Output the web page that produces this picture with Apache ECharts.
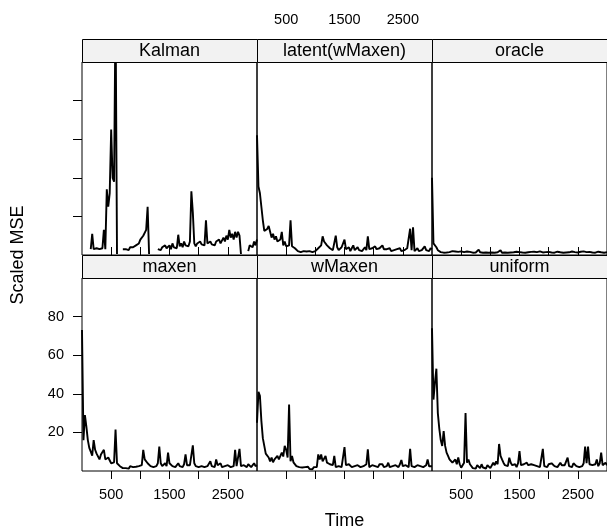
<!DOCTYPE html>
<html>
<head>
<meta charset="utf-8">
<script src="https://cdn.jsdelivr.net/npm/echarts@6/dist/echarts.min.js"></script>
<style>html,body{margin:0;padding:0;background:#fff;}#c{width:607px;height:531px;}</style>
</head>
<body>
<div id="c"></div>
<script>
const time = [0,25,50,75,100,125,150,175,200,225,
250,275,300,325,350,375,400,425,450,475,
500,525,550,575,600,625,650,675,700,725,
750,775,800,825,850,875,900,925,950,975,
1000,1025,1050,1075,1100,1125,1150,1175,1200,1225,
1250,1275,1300,1325,1350,1375,1400,1425,1450,1475,
1500,1525,1550,1575,1600,1625,1650,1675,1700,1725,
1750,1775,1800,1825,1850,1875,1900,1925,1950,1975,
2000,2025,2050,2075,2100,2125,2150,2175,2200,2225,
2250,2275,2300,2325,2350,2375,2400,2425,2450,2475,
2500,2525,2550,2575,2600,2625,2650,2675,2700,2725,
2750,2775,2800,2825,2850,2875,2900,2925,2950,2975,
3000];

const kalman = [null,null,null,null,null,null,3,11,3,2,
3.5,2.5,3,2,3.5,13,3,34,25,32,
65,40,38,130,0.5,null,null,null,3,2,
3,3.5,2.5,4,3,4,3.5,5,4,6,
8,9,10,11,13,25,0.5,null,null,null,
null,null,3,4,2.5,4,3,5,3.5,4,
5,3,6,4,5,3.5,10.5,4.5,6,4,
7,5,6,4.5,7,33,22,6,4.5,6,
5,7,5.5,6,5,18,6,5,7,5.5,
6.5,5,7,6,8,6,7,9,7,10,
8,13,9,11,8,12,9,12,10,0.5,
null,null,null,null,2,5,6,4,7,5,
8];

const latentWMaxen = [62,35.5,32,25,18,12.5,12,13.5,15,12,
9,11,8,9.7,7,6,8,12,5,7,
4.5,5.5,5,18,4.5,4.5,3.5,2.5,2,3,
1.5,2.5,2,3,1.8,2.5,2,3,1.5,2.5,
2,3,3.5,4.5,5,9.7,7,8,5,4,
3.5,4,2.5,3,10,4,2.5,3.5,4,3,
8,3,2.5,4,2,3.5,5,2.5,3,4,
2.5,3,2,3,4,2.5,9.7,3,2,3.5,
2.5,4.5,3,2,3.5,2.5,5,3,2,3,
2.5,3.5,2,3,2.5,2,3,2.5,3.5,2,
3,2.5,2,3.5,2.5,13.6,2.5,14.3,2,3,
3.5,2,3,2.5,3,4.5,2.5,3,2,3.5,
3];

const oracle = [40,6,7,4,2.5,3,1.5,2,1.2,1.8,
1.3,2,1.5,1.2,2,1.4,1.8,1.2,1.6,1.3,
1.9,1.2,1.5,1.3,1.8,1.2,1.6,1.4,1.2,1.7,
1.3,1.5,2.8,1.4,1.8,1.2,1.5,1.3,1.7,1.2,
1.5,1.3,1.9,1.2,1.6,1.4,1.3,2.5,1.2,1.6,
1.3,1.8,1.2,1.5,1.3,2,1.4,1.2,1.7,1.3,
1.5,1.9,1.3,1.6,1.2,1.8,1.4,1.3,1.6,1.2,
1.7,1.3,1.5,1.2,1.9,1.4,1.3,1.7,1.5,1.2,
1.6,1.4,1.3,1.8,1.2,1.5,1.7,1.3,1.4,2,
1.2,1.5,1.3,1.7,1.4,1.2,1.8,1.3,1.5,1.6,
1.3,1.2,1.7,1.4,1.9,1.3,1.5,1.2,1.6,1.4,
1.3,1.8,1.2,1.5,1.7,1.3,1.4,1.9,1.2,1.5,
1.4];

const maxen = [73,16,29,23,16,12,10,8,16,11,
9,8,6,8.6,7.8,11,6,7,7,7,
4,3.5,4.5,21.5,4,3.5,2.5,2,1.5,2.5,
1.5,2,1.2,2.5,1.5,2,1.3,2.2,1.5,2.5,
1.8,3,11,6,7,4,3,2.5,3.5,2,
3,2.5,4,12.6,4,2.5,3,4,2.5,9.5,
4,3,2.5,3.5,2,3,4,2.5,3,2,
3.5,8.6,3,2.5,3,4,13.3,4,2.5,3,
2,3,2.5,3.5,2,3,2.5,3,5,2.5,
3,2,6,3,2.5,4,2,3,2.5,2,
3,2.5,2,3,2.5,11,2.5,2,11.5,2.5,
2,3,2.5,2,3.5,2.5,2,3,4,2.5,
3];

const wMaxen = [25,41,39,26,17,13,9,8,7,5,
7,4.5,6,5,7.8,6,7,9.5,7.5,13,
11,7,34.5,5,7.8,4.5,4,2.5,1.5,2,
1,1.8,0.8,2,1.2,2.2,1,1.6,0.9,2,
1.3,2,8.6,6,8.6,5,6,7.8,4.3,3.5,
3.5,2.5,3,7.8,2,3,2.5,3.5,2,2.5,
12.4,3,2,3.5,2.5,2,3,2.5,2,3,
2.5,2,3,2.5,2,3.5,11.2,2,2.5,3,
2,2.5,3,2,3.5,2.5,3.5,2,3,2.5,
4.3,2,3,2.5,2,3,2.5,2,3.5,5.7,
2.5,2,3,2.5,2,11.5,2.5,3,2,2.5,
3,2,2.5,3.5,2,2.5,3,6,2.5,3,
2.5];

const uniform = [74,37,45.7,53,30,22,16,13,20.7,13,
9.5,7.8,6,7,4.3,5,6,3.5,7,3.5,
1.7,2.6,4.3,30,4.3,6,3.5,2.6,1.5,2.5,
1.2,3,2,1.5,3.5,1.8,2.5,1.3,3,2,
1.5,2.5,4.3,3,5,3.5,14,7.8,6,4.3,
3,3.5,2.5,6.9,4.3,3,2.5,3.5,2,4,
10.3,3,2,3.5,2.5,4.3,3,2,3.5,2.5,
3,2,2.5,3.5,2,3,11.5,2.5,3,2,
3.5,2.5,4,3,2.5,3.5,2,3,4.3,3,
2.5,3,4,6.9,2.5,3,2,4,3,2.5,
3.5,2,3,2.5,4,12.6,4,12.6,3.5,2.5,
3,2.5,3.5,6,2.5,4,9.5,3,2.5,4.3,
3];

const panelNames = ['Kalman','latent(wMaxen)','oracle','maxen','wMaxen','uniform'];
const panelValues = [kalman, latentWMaxen, oracle, maxen, wMaxen, uniform];
const xTickValues = [500,1000,1500,2000,2500];
const xLabelValues = [500,1500,2500];
const yTickValues = [20,40,60,80];
const xTitle = 'Time';
const yTitle = 'Scaled MSE';

const FONT = 'Liberation Sans, Arial, Helvetica, sans-serif';
const colLeft = [82, 257, 432];
const rowTop = [62, 278];
const PW = 175, PH = 193, SH = 23;

const grids = [], xAxes = [], yAxes = [], series = [], graphics = [];
for (let i = 0; i < 6; i++) {
  const r = Math.floor(i / 3), c = i % 3;
  grids.push({left: colLeft[c], top: rowTop[r], width: PW, height: PH,
    show: true, borderColor: '#000', borderWidth: 1, backgroundColor: 'transparent'});
  const showXLab = (r === 0 && c === 1) || (r === 1 && c !== 1);
  xAxes.push({
    type: 'value', gridIndex: i, min: 0, max: 3000,
    position: r === 0 ? 'top' : 'bottom',
    offset: r === 0 ? SH : 0,
    axisLine: {show: false},
    splitLine: {show: false},
    axisTick: {show: true, inside: false, length: 8, customValues: xTickValues,
      lineStyle: {color: '#000', width: 1}},
    axisLabel: {show: showXLab, customValues: xLabelValues, color: '#000',
      fontFamily: FONT, fontSize: 14.5, margin: r === 0 ? 12 : 16,
      formatter: v => String(v)}
  });
  yAxes.push({
    type: 'value', gridIndex: i, min: 0, max: 100,
    axisLine: {show: false},
    splitLine: {show: false},
    axisTick: {show: c === 0, inside: false, length: 9, customValues: yTickValues,
      lineStyle: {color: '#000', width: 1}},
    axisLabel: {show: c === 0 && r === 1, customValues: yTickValues, color: '#000',
      fontFamily: FONT, fontSize: 14.5, margin: 18, formatter: v => String(v)}
  });
  series.push({
    type: 'line', name: panelNames[i], xAxisIndex: i, yAxisIndex: i,
    data: time.map((t, k) => [t, panelValues[i][k]]),
    showSymbol: false, symbol: 'none', connectNulls: false, clip: true,
    lineStyle: {color: '#000', width: 1.9}, animation: false
  });
  graphics.push({
    type: 'rect', z: 10,
    shape: {x: colLeft[c] + 0.5, y: rowTop[r] - SH + 0.5, width: PW, height: SH},
    style: {fill: '#f2f2f2', stroke: '#000', lineWidth: 1}
  });
  graphics.push({
    type: 'text', z: 11,
    x: colLeft[c] + PW / 2, y: rowTop[r] - SH / 2 + 0.5,
    style: {text: panelNames[i], fill: '#000', font: '18px ' + FONT,
      textAlign: 'center', textVerticalAlign: 'middle'}
  });
}
graphics.push({
  type: 'text', x: 344.5, y: 521,
  style: {text: xTitle, fill: '#000', font: '18px ' + FONT, textAlign: 'center', textVerticalAlign: 'middle'}
});
graphics.push({
  type: 'text', x: 18, y: 255, rotation: Math.PI / 2,
  style: {text: yTitle, fill: '#000', font: '18px ' + FONT, textAlign: 'center', textVerticalAlign: 'middle'}
});

const chart = echarts.init(document.getElementById('c'), null, {renderer: 'canvas'});
chart.setOption({
  animation: false,
  backgroundColor: '#fff',
  grid: grids, xAxis: xAxes, yAxis: yAxes, series: series,
  graphic: graphics
});
</script>
</body>
</html>
